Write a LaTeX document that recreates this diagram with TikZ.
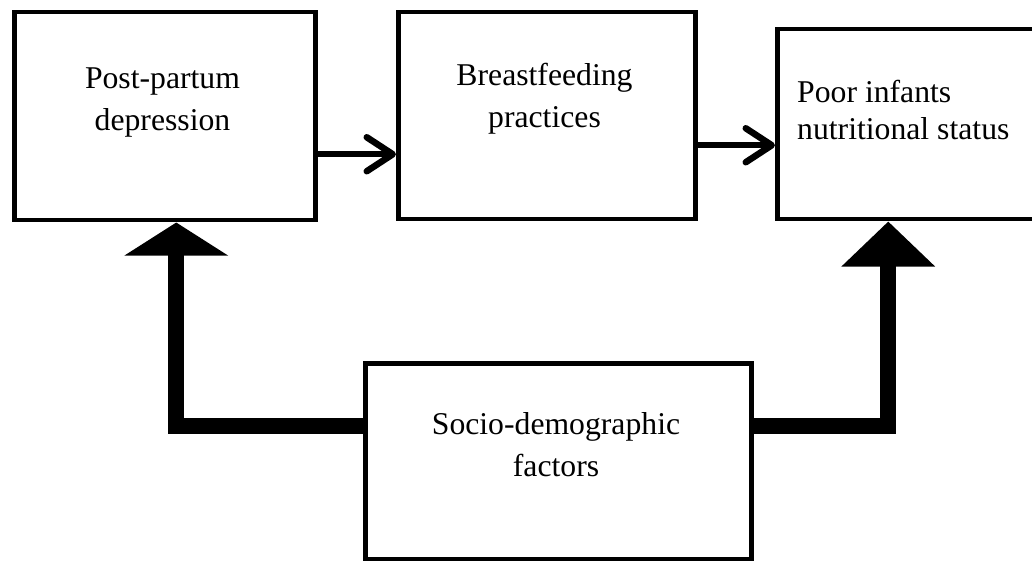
\documentclass[tikz,border=0pt]{standalone}
\usepackage{fontspec}
\setmainfont{Liberation Serif}
\usetikzlibrary{arrows.meta}
\begin{document}
\begin{tikzpicture}[x=1pt,y=-1pt,
  box/.style={draw,line width=4.5pt,inner sep=0pt,anchor=north west,line join=miter},
  lbl/.style={inner sep=0pt,font=\fontsize{31.7}{42}\selectfont,align=center,anchor=base},
  thinarrow/.style={line width=6.5pt,-{Straight Barb[length=26pt,width=34pt,line cap=round,line join=round]}},
  bigarrow/.style={line width=16pt,line join=miter}
]
\clip (0,0) rectangle (1032,561);
\fill[white] (0,0) rectangle (1032,561);
% boxes
\node[box,minimum width=301pt,minimum height=208pt] (b1) at (12,10) {};
\node[box,minimum width=297pt,minimum height=207pt] (b2) at (396,10) {};
\node[box,minimum width=300pt,minimum height=190pt] (b3) at (775,27) {};
\node[box,minimum width=386pt,minimum height=196pt] (b4) at (363,361) {};
% texts (base anchor = baseline of last line)
\node[lbl] (t1) at (162.5,130.5) {Post-partum\\depression};
\node[lbl] (t2) at (544.5,128) {Breastfeeding\\practices};
\node[lbl,font=\fontsize{31.7}{37}\selectfont,align=left,anchor=base west] (t3) at (797,140) {Poor infants\\nutritional status};
\node[lbl] (t4) at (556,476) {Socio-demographic\\factors};
% thin arrows
\draw[thinarrow] ([yshift=-38pt]b1.east) -- ([yshift=-38pt]b1.east -| b2.west);
\draw[thinarrow] ([yshift=-29.5pt]b2.east) -- ([yshift=-29.5pt]b2.east -| b3.west);
% thick arrows
\draw[bigarrow,-{Triangle[width=102pt,length=33pt]}] ([yshift=35.5pt]b4.west) -| ([xshift=11.5pt]b1.south);
\draw[bigarrow,-{Triangle[width=91pt,length=45pt]}] ([yshift=35.5pt]b4.east) -| ([xshift=113.25pt]b3.south west);
\end{tikzpicture}
\end{document}
